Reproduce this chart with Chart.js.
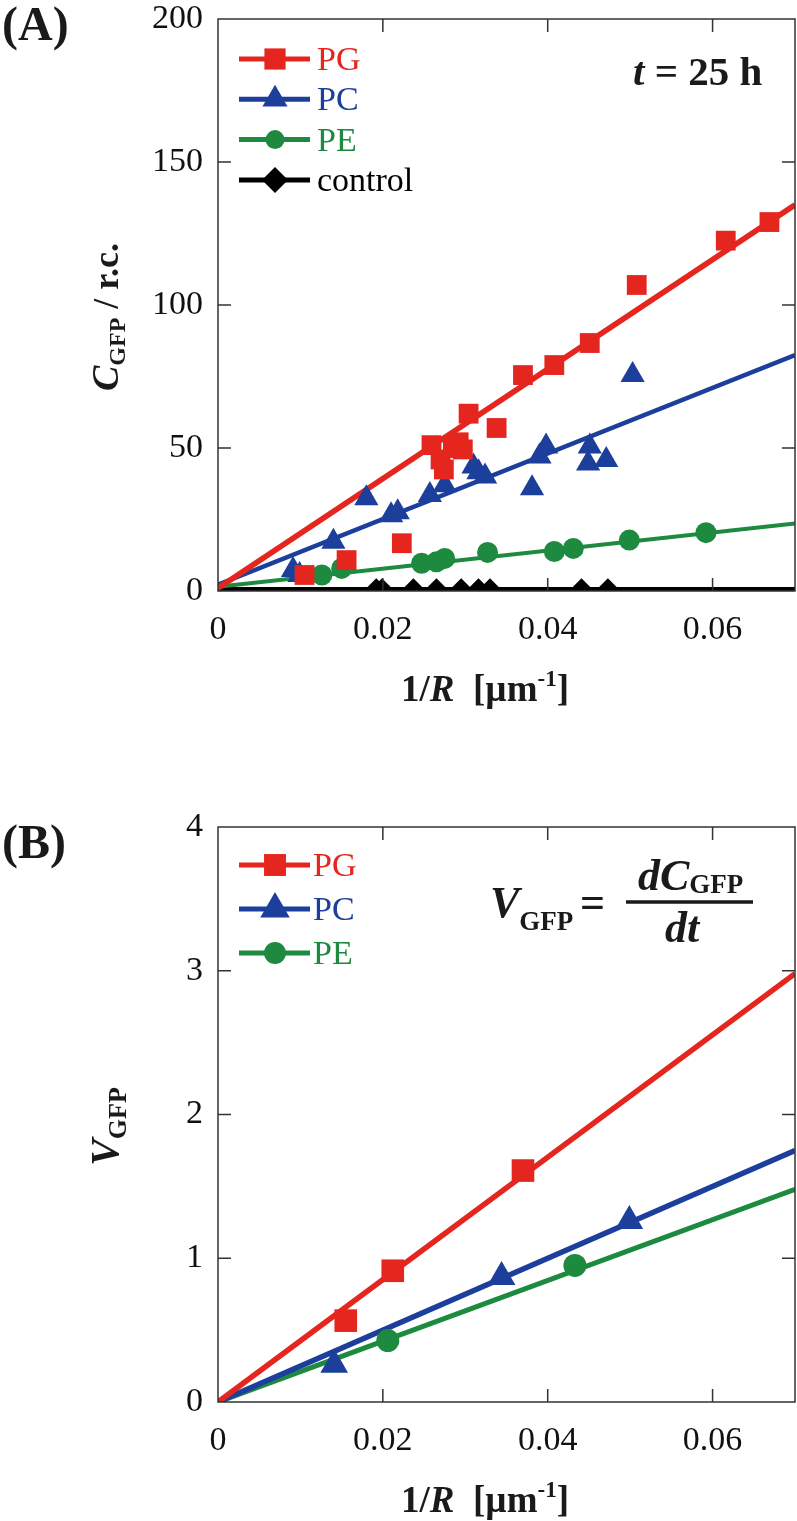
<!DOCTYPE html>
<html>
<head>
<meta charset="utf-8">
<script src="https://cdn.jsdelivr.net/npm/chart.js@4.4.0/dist/chart.umd.min.js"></script>
<style>
    html, body { margin: 0; padding: 0; background: #fff; overflow: hidden; width: 797px; height: 1521px; }
    canvas { display: block; }
    #wrapA { position: absolute; left: 0; top: 0; width: 797px; height: 760px; }
    #wrapB { position: absolute; left: 0; top: 760px; width: 797px; height: 761px; }
</style>
</head>
<body>
<div id="wrapA"><canvas id="chartA"></canvas></div>
<div id="wrapB"><canvas id="chartB"></canvas></div>
<script>
// GFP expression vs curvature 1/R

const RED = '#e4261f';
const BLUE = '#1d3f9c';
const GREEN = '#1d8a40';
const BLACK = '#000000';
const SERIF = "'Liberation Serif', 'Times New Roman', serif";

const seriesNames = ['PG', 'PC', 'PE', 'control'];

// axes
const xTickValues = [0, 0.02, 0.04, 0.06];
const xTickLabels = ['0', '0.02', '0.04', '0.06'];
const yTickValuesA = [0, 50, 100, 150, 200];
const yTickValuesB = [0, 1, 2, 3, 4];

// Panel A: C_GFP at t = 25 h
const pgXA = [0.0105, 0.0156, 0.0223, 0.0259, 0.0270, 0.0274, 0.0285, 0.0292, 0.0297, 0.0304, 0.0338, 0.0370, 0.0408, 0.0451, 0.0508, 0.0616, 0.0669];
const pgYA = [5.6, 10.8, 16.7, 51, 46, 42.5, 50, 52, 49.5, 62, 57, 75.5, 79, 86.7, 107, 122.5, 129];
const pcXA = [0.0091, 0.0099, 0.0140, 0.0180, 0.0210, 0.0218, 0.0257, 0.0275, 0.0310, 0.0316, 0.0324, 0.0381, 0.0390, 0.0398, 0.0449, 0.0451, 0.0471, 0.0503];
const pcYA = [7.3, 5.6, 17.2, 32.4, 26.5, 27.5, 33.6, 37, 43.5, 41.5, 40, 35.9, 47, 50.5, 44.6, 50.5, 45.8, 75.5];
const peXA = [0.0126, 0.0150, 0.0247, 0.0265, 0.0275, 0.0327, 0.0408, 0.0431, 0.0499, 0.0592];
const peYA = [5.6, 7.9, 9.7, 10.2, 11.4, 13.5, 13.8, 14.9, 17.8, 20.4];
const ctrlXA = [0.0192, 0.0199, 0.0237, 0.0265, 0.0295, 0.0316, 0.0330, 0.0441, 0.0473];
const ctrlYA = [0.6, 0.6, 0.6, 0.6, 0.6, 0.6, 0.6, 0.6, 0.6];
// fitted lines, end points
const pgFitA = [[0, 1], [0.07, 135]];
const pcFitA = [[0, 2.2], [0.07, 82.5]];
const peFitA = [[0, 1.5], [0.07, 23.6]];
const ctrlFitA = [[0, 0.6], [0.07, 0.6]];

// Panel B: V_GFP
const pgXB = [0.0155, 0.0212, 0.0370];
const pgYB = [0.566, 0.913, 1.61];
const pcXB = [0.0141, 0.0344, 0.0499];
const pcYB = [0.26, 0.87, 1.26];
const peXB = [0.0206, 0.0433];
const peYB = [0.427, 0.95];
const pgFitB = [[0, 0], [0.07, 2.98]];
const pcFitB = [[0, 0], [0.07, 1.75]];
const peFitB = [[0, 0], [0.07, 1.48]];

function zip(xs, ys) {
    return xs.map((x, i) => ({ x: x, y: ys[i] }));
}
function pairs(p) {
    return p.map(q => ({ x: q[0], y: q[1] }));
}

function pointSet(xs, ys, color, style, radius) {
    return {
        data: zip(xs, ys),
        showLine: false,
        pointStyle: style,
        pointRadius: radius,
        pointBackgroundColor: color,
        pointBorderWidth: 0,
        order: 1
    };
}
function fitSet(p, color, width) {
    return {
        data: pairs(p),
        showLine: true,
        borderColor: color,
        borderWidth: width,
        pointRadius: 0,
        order: 2
    };
}

function runsWidth(ctx, runs) {
    let w = 0;
    runs.forEach(r => { ctx.font = r.font; w += ctx.measureText(r.text).width; });
    return w;
}
function drawRuns(ctx, runs, x, y, color) {
    ctx.fillStyle = color || '#111';
    runs.forEach(r => {
        ctx.font = r.font;
        ctx.fillText(r.text, x, y + (r.dy || 0));
        x += ctx.measureText(r.text).width;
    });
    return x;
}

// frame, inward ticks, legend and labels
const decor = {
    id: 'decor',
    afterDraw(chart, args, opts) {
        const ctx = chart.ctx;
        const a = chart.chartArea;
        const xs = chart.scales.x, ys = chart.scales.y;
        ctx.save();
        ctx.textAlign = 'left';
        ctx.textBaseline = 'alphabetic';

        ctx.strokeStyle = '#333';
        ctx.lineWidth = 1.5;
        ctx.strokeRect(a.left, a.top, a.right - a.left, a.bottom - a.top);
        const tl = 13;
        ctx.beginPath();
        xs.ticks.forEach(t => {
            if (t.value <= xs.min || t.value >= xs.max) return;
            const px = xs.getPixelForValue(t.value);
            ctx.moveTo(px, a.bottom); ctx.lineTo(px, a.bottom - tl);
            ctx.moveTo(px, a.top); ctx.lineTo(px, a.top + tl);
        });
        ys.ticks.forEach(t => {
            if (t.value <= ys.min || t.value >= ys.max) return;
            const py = ys.getPixelForValue(t.value);
            ctx.moveTo(a.left, py); ctx.lineTo(a.left + tl, py);
            ctx.moveTo(a.right, py); ctx.lineTo(a.right - tl, py);
        });
        ctx.stroke();

        // legend
        const lg = opts.legend;
        lg.items.forEach((it, i) => {
            const y = lg.top + i * lg.gap;
            ctx.strokeStyle = it.color;
            ctx.lineWidth = 5;
            ctx.beginPath();
            ctx.moveTo(239, y); ctx.lineTo(310, y);
            ctx.stroke();
            ctx.fillStyle = it.color;
            Chart.helpers.drawPoint(ctx, { pointStyle: it.style, radius: it.radius, rotation: 0, borderWidth: 0 }, 275, y);
            ctx.font = '34px ' + SERIF;
            ctx.fillStyle = it.color;
            ctx.fillText(it.label, lg.textX, y + 11);
        });

        // panel label
        ctx.font = 'bold 48px ' + SERIF;
        ctx.fillStyle = '#1a1a1a';
        ctx.fillText(opts.panel, 2, opts.panelY);

        // y title, rotated
        const yr = opts.yTitle;
        const w = runsWidth(ctx, yr);
        ctx.save();
        ctx.translate(118, (a.top + a.bottom) / 2 + 12 + w / 2);
        ctx.rotate(-Math.PI / 2);
        drawRuns(ctx, yr, 0, 0, '#1a1a1a');
        ctx.restore();

        // x title
        const xr = [
            { text: '1/', font: 'bold 37px ' + SERIF },
            { text: 'R', font: 'italic bold 37px ' + SERIF },
            { text: '  [\u00b5m', font: 'bold 37px ' + SERIF },
            { text: '-1', font: 'bold 23px ' + SERIF, dy: -15 },
            { text: ']', font: 'bold 37px ' + SERIF }
        ];
        const xw = runsWidth(ctx, xr);
        drawRuns(ctx, xr, 485 - xw / 2, a.bottom + 110, '#1a1a1a');

        if (opts.extra) opts.extra(ctx);
        ctx.restore();
    }
};

function noPadding(s) {
    s.paddingLeft = 0;
    s.paddingRight = 0;
    s.paddingTop = 0;
    s.paddingBottom = 0;
}

function scaleX(height) {
    return {
        type: 'linear',
        min: 0,
        max: 0.07,
        afterBuildTicks: s => { s.ticks = xTickValues.map(v => ({ value: v })); },
        afterFit: s => { s.height = height; noPadding(s); },
        ticks: {
            callback: v => xTickLabels[xTickValues.indexOf(v)],
            font: { family: SERIF, size: 34, lineHeight: 1 },
            color: '#111',
            padding: 22,
            maxRotation: 0
        },
        grid: { display: false, drawTicks: false },
        border: { display: false }
    };
}
function scaleY(max, values) {
    return {
        type: 'linear',
        min: 0,
        max: max,
        afterBuildTicks: s => { s.ticks = values.map(v => ({ value: v })); },
        afterFit: s => { s.width = 218; noPadding(s); },
        ticks: {
            callback: v => String(v),
            font: { family: SERIF, size: 34, lineHeight: 1 },
            color: '#111',
            padding: 15
        },
        grid: { display: false, drawTicks: false },
        border: { display: false }
    };
}

new Chart(document.getElementById('chartA'), {
    type: 'scatter',
    data: {
        datasets: [
            pointSet(pgXA, pgYA, RED, 'rect', 14),
            pointSet(pcXA, pcYA, BLUE, 'triangle', 14),
            pointSet(peXA, peYA, GREEN, 'circle', 10.5),
            pointSet(ctrlXA, ctrlYA, BLACK, 'rectRot', 11),
            fitSet(pgFitA, RED, 5.5),
            fitSet(pcFitA, BLUE, 4.5),
            fitSet(peFitA, GREEN, 4),
            fitSet(ctrlFitA, BLACK, 4.5)
        ]
    },
    options: {
        responsive: true,
        maintainAspectRatio: false,
        animation: false,
        events: [],
        layout: { autoPadding: false, padding: { top: 19, right: 2, left: 0, bottom: 0 } },
        scales: { x: scaleX(169), y: scaleY(200, yTickValuesA) },
        plugins: {
            legend: { display: false },
            tooltip: { enabled: false },
            decor: {
                panel: '(A)',
                panelY: 40,
                legend: {
                    top: 59, gap: 40.3, textX: 317,
                    items: [
                        { label: seriesNames[0], color: RED, style: 'rect', radius: 15 },
                        { label: seriesNames[1], color: BLUE, style: 'triangle', radius: 14.5 },
                        { label: seriesNames[2], color: GREEN, style: 'circle', radius: 9.5 },
                        { label: seriesNames[3], color: BLACK, style: 'rectRot', radius: 13 }
                    ]
                },
                yTitle: [
                    { text: 'C', font: 'italic bold 38px ' + SERIF },
                    { text: 'GFP', font: 'bold 24px ' + SERIF, dy: 7 },
                    { text: ' / r.c.', font: 'bold 36px ' + SERIF }
                ],
                extra: ctx => {
                    drawRuns(ctx, [
                        { text: 't', font: 'italic bold 41px ' + SERIF },
                        { text: ' = 25 h', font: 'bold 41px ' + SERIF }
                    ], 633, 85, '#1a1a1a');
                }
            }
        }
    },
    plugins: [decor]
});

new Chart(document.getElementById('chartB'), {
    type: 'scatter',
    data: {
        datasets: [
            pointSet(pgXB, pgYB, RED, 'rect', 16),
            pointSet(pcXB, pcYB, BLUE, 'triangle', 16),
            pointSet(peXB, peYB, GREEN, 'circle', 11.5),
            fitSet(pgFitB, RED, 5.5),
            fitSet(pcFitB, BLUE, 5.5),
            fitSet(peFitB, GREEN, 5)
        ]
    },
    options: {
        responsive: true,
        maintainAspectRatio: false,
        animation: false,
        events: [],
        layout: { autoPadding: false, padding: { top: 67, right: 2, left: 0, bottom: 0 } },
        scales: { x: scaleX(119), y: scaleY(4, yTickValuesB) },
        plugins: {
            legend: { display: false },
            tooltip: { enabled: false },
            decor: {
                panel: '(B)',
                panelY: 98,
                legend: {
                    top: 105, gap: 44, textX: 313,
                    items: [
                        { label: seriesNames[0], color: RED, style: 'rect', radius: 15.5 },
                        { label: seriesNames[1], color: BLUE, style: 'triangle', radius: 17 },
                        { label: seriesNames[2], color: GREEN, style: 'circle', radius: 11 }
                    ]
                },
                yTitle: [
                    { text: 'V', font: 'italic bold 40px ' + SERIF },
                    { text: 'GFP', font: 'bold 26px ' + SERIF, dy: 8 }
                ],
                extra: ctx => {
                    drawRuns(ctx, [
                        { text: 'V', font: 'italic bold 44px ' + SERIF },
                        { text: 'GFP', font: 'bold 27px ' + SERIF, dy: 13 }
                    ], 490, 157, '#1a1a1a');
                    drawRuns(ctx, [{ text: '=', font: 'bold 44px ' + SERIF }], 580, 157, '#1a1a1a');
                    ctx.strokeStyle = '#1a1a1a';
                    ctx.lineWidth = 3.5;
                    ctx.beginPath();
                    ctx.moveTo(626, 142); ctx.lineTo(753, 142);
                    ctx.stroke();
                    drawRuns(ctx, [
                        { text: 'dC', font: 'italic bold 44px ' + SERIF },
                        { text: 'GFP', font: 'bold 27px ' + SERIF, dy: 3 }
                    ], 638, 130, '#1a1a1a');
                    const dt = [{ text: 'dt', font: 'italic bold 44px ' + SERIF }];
                    drawRuns(ctx, dt, 682 - runsWidth(ctx, dt) / 2, 182, '#1a1a1a');
                }
            }
        }
    },
    plugins: [decor]
});
</script>
</body>
</html>
